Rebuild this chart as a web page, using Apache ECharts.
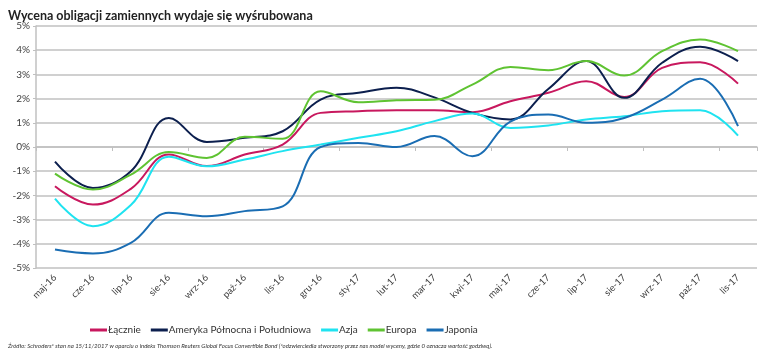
<!DOCTYPE html>
<html>
<head>
<meta charset="utf-8">
<script src="https://cdn.jsdelivr.net/npm/echarts@6/dist/echarts.min.js"></script>
<style>
  html, body { margin: 0; padding: 0; background: #fff; }
  #chart { width: 770px; height: 353px; }
</style>
</head>
<body>
<div id="chart"></div>
<script>
// miesiące
const months = ['maj-16', 'cze-16', 'lip-16', 'sie-16', 'wrz-16', 'paź-16', 'lis-16', 'gru-16', 'sty-17', 'lut-17',
  'mar-17', 'kwi-17', 'maj-17', 'cze-17', 'lip-17', 'sie-17', 'wrz-17', 'paź-17', 'lis-17']

// wartości w %
const lacznie = [-1.62, -2.38, -1.73, -0.31, -0.79, -0.31, 0.1, 1.41, 1.48, 1.52, 1.52, 1.44, 1.89, 2.24, 2.72, 2.07, 3.27, 3.5, 2.62]
const ameryka = [-0.6, -1.69, -1.0, 1.2, 0.21, 0.38, 0.65, 1.96, 2.24, 2.45, 2.05, 1.41, 1.14, 2.4, 3.55, 2.03, 3.48, 4.14, 3.55]
const azja = [-2.13, -3.27, -2.4, -0.4, -0.8, -0.52, -0.17, 0.1, 0.38, 0.65, 1.07, 1.38, 0.79, 0.89, 1.14, 1.27, 1.48, 1.52, 0.47]
const europa = [-1.1, -1.76, -1.14, -0.21, -0.45, 0.42, 0.34, 2.3, 1.85, 1.93, 1.95, 2.58, 3.31, 3.17, 3.55, 2.95, 3.96, 4.44, 3.96]
const japonia = [-4.24, -4.4, -3.96, -2.72, -2.86, -2.65, -2.45, 0.0, 0.17, 0.0, 0.45, -0.38, 1.05, 1.34, 1.0, 1.2, 1.96, 2.82, 0.86]

const names = ['Łącznie', 'Ameryka Północna i Południowa', 'Azja', 'Europa', 'Japonia']
const colors = ['#c8185e', '#0c1f4e', '#1fe3f0', '#5fc332', '#1a6db3']
const values = [lacznie, ameryka, azja, europa, japonia]

const gridColor = '#c0c0c0'
const labelColor = '#404040'

const chart = echarts.init(document.getElementById('chart'))
chart.setOption({
  animation: false,
  title: [
    {
      text: 'Wycena obligacji zamiennych wydaje się wyśrubowana',
      left: 3,
      top: 4,
      textStyle: { fontFamily: 'Lato', fontWeight: 'bold', fontSize: 12.5, color: '#222' }
    },
    {
      text: 'Źródło: Schroders* stan na 15/11/2017 w oparciu o indeks Thomson Reuters Global Focus Convertible Bond (*odzwierciedla stworzony przez nas model wyceny, gdzie 0 oznacza wartość godziwą).',
      left: 3,
      top: 338,
      textStyle: { fontFamily: 'Lato', fontStyle: 'italic', fontWeight: 'normal', fontSize: 6, color: '#333' }
    }
  ],
  legend: {
    data: names,
    left: 85,
    top: 320,
    itemWidth: 17,
    itemHeight: 3,
    itemGap: 10,
    icon: 'rect',
    textStyle: { fontFamily: 'Lato', fontSize: 10, color: '#333', padding: [0, 0, 0, -4] }
  },
  grid: { left: 36, right: 13, top: 26, bottom: 85 },
  xAxis: [
    {
      type: 'category',
      data: months,
      position: 'bottom',
      axisLine: { show: false, onZero: false },
      axisTick: { show: false },
      axisLabel: { rotate: 45, color: labelColor, fontFamily: 'Lato', fontSize: 9.5, margin: 8, interval: 0 }
    },
    {
      type: 'category',
      data: months,
      position: 'bottom',
      axisLine: { show: true, onZero: true, lineStyle: { color: gridColor, width: 1.5 } },
      axisTick: { show: true, length: 4, lineStyle: { color: gridColor } },
      axisLabel: { show: false }
    }
  ],
  yAxis: {
    type: 'value',
    min: -5,
    max: 5,
    interval: 1,
    axisLine: { show: true, lineStyle: { color: gridColor, width: 1.5 } },
    axisTick: { show: true, length: 3, lineStyle: { color: gridColor } },
    axisLabel: { formatter: '{value}%', color: labelColor, fontFamily: 'Lato', fontSize: 10, margin: 6 },
    splitLine: { lineStyle: { color: gridColor, width: 1.5 } }
  },
  series: names.map((n, i) => ({
    name: n,
    type: 'line',
    xAxisIndex: 0,
    data: values[i],
    smooth: 0.4,
    symbol: 'none',
    lineStyle: { color: colors[i], width: 2 },
    itemStyle: { color: colors[i] }
  }))
})
</script>
</body>
</html>
